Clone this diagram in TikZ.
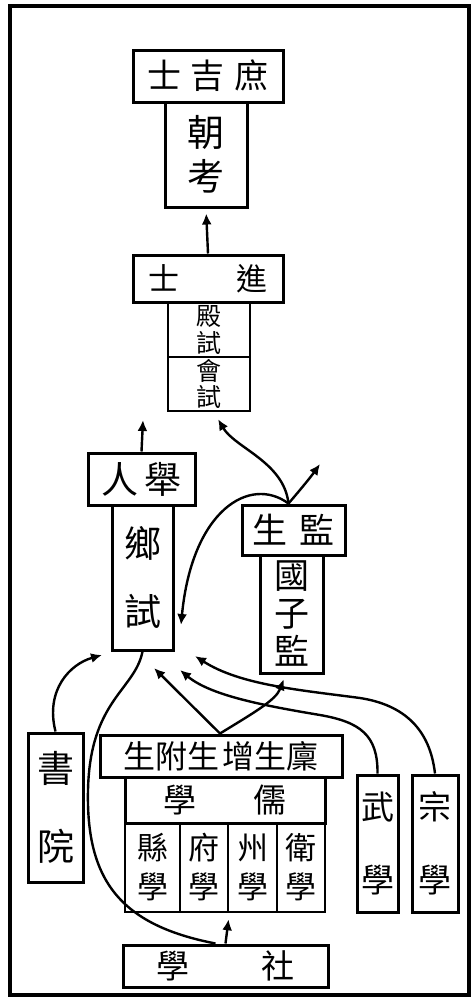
\documentclass[tikz,border=0pt]{standalone}
\usepackage{fontspec}
\newfontfamily\cjk{Noto Sans CJK TC}
\usetikzlibrary{arrows.meta}
\begin{document}
\begin{tikzpicture}[x=1pt,y=-1pt,
  box/.style={draw, line width=3pt, inner sep=0pt, align=center, font=\cjk},
  cell/.style={draw, line width=2.6pt, inner sep=0pt, align=center, font=\cjk},
  link/.style={line width=2.4pt},
  arr/.style={link, -{Latex[length=11pt,width=10pt]}}]
\useasboundingbox (0,0) rectangle (476,997);
\draw[line width=4pt] (10,6) rectangle (469,995);

% top column
\node[box, minimum width=82pt, minimum height=105pt, font=\cjk\fontsize{37}{44}\selectfont] (chao) at (206,154.5) {朝\\考};
\node[box, fill=white, minimum width=150pt, minimum height=52pt, font=\cjk\fontsize{34}{34}\selectfont] (shu) at (208,76) {士\hspace{10pt}吉\hspace{10pt}庶};
\node[cell, minimum width=82pt, minimum height=55pt, font=\cjk\fontsize{25}{27}\selectfont] (dian) at (209,329.5) {殿\\試};
\node[cell, minimum width=82pt, minimum height=54pt, font=\cjk\fontsize{25}{26}\selectfont] (hui) at (209,384) {會\\試};
\node[box, fill=white, minimum width=150pt, minimum height=47pt, font=\cjk\fontsize{31}{31}\selectfont] (jin) at (208,278.5) {士\hspace{58pt}進};

% juren
\node[box, minimum width=61pt, minimum height=145pt, font=\cjk\fontsize{37}{68}\selectfont] (xiang) at (142.5,577.5) {鄉\\試};
\node[box, fill=white, minimum width=107pt, minimum height=52pt, font=\cjk\fontsize{37}{37}\selectfont] (ju) at (141.5,479) {人\hspace{7pt}舉};

% jiansheng
\node[box, minimum width=63pt, minimum height=118pt, font=\cjk\fontsize{35}{38}\selectfont] (guo) at (291.5,614) {國\\子\\監};
\node[box, fill=white, minimum width=103pt, minimum height=50pt, font=\cjk\fontsize{35}{35}\selectfont] (jian) at (293.5,530) {生\hspace{13pt}監};

% shuyuan
\node[box, minimum width=55pt, minimum height=149pt, font=\cjk\fontsize{37}{78}\selectfont] (shuyuan) at (55.5,807.5) {書\\院};

% ruxue
\node[box, minimum width=200pt, minimum height=46pt, font=\cjk\fontsize{33}{33}\selectfont] (ru) at (225,800) {學\hspace{58pt}儒};
\node[cell, minimum width=55pt, minimum height=89pt, font=\cjk\fontsize{31}{39}\selectfont] (xian) at (152.5,867.5) {縣\\學};
\node[cell, minimum width=48pt, minimum height=89pt, font=\cjk\fontsize{31}{39}\selectfont] (fu) at (204,867.5) {府\\學};
\node[cell, minimum width=49pt, minimum height=89pt, font=\cjk\fontsize{31}{39}\selectfont] (zhou) at (252.5,867.5) {州\\學};
\node[cell, minimum width=48pt, minimum height=89pt, font=\cjk\fontsize{31}{39}\selectfont] (wei) at (301,867.5) {衛\\學};
\node[box, fill=white, minimum width=242pt, minimum height=42pt, font=\cjk\fontsize{32}{32}\selectfont] (lin) at (221,756) {生附生\hspace{3pt}增生廩};

% wuxue, zongxue
\node[box, minimum width=41pt, minimum height=137pt, font=\cjk\fontsize{33}{73}\selectfont] (wu) at (377.5,843.5) {武\\學};
\node[box, minimum width=46pt, minimum height=137pt, font=\cjk\fontsize{33}{73}\selectfont] (zong) at (435,843.5) {宗\\學};

% shexue
\node[box, minimum width=205pt, minimum height=42pt, font=\cjk\fontsize{33}{33}\selectfont] (she) at (225.5,966) {學\hspace{73pt}社};

% free ends
\coordinate (juTip) at (143,420);
\coordinate (jianTip) at (320,464);
\coordinate (linTip) at (154,668);
\coordinate (wuTip) at (180,670);
\coordinate (zongTip) at (195,656);
\coordinate (shuTip) at (102,655);
\coordinate (xiangTip) at (181,625);
\coordinate (jianTop) at ([xshift=-5pt]jian.north);
\coordinate (linTop) at ([xshift=-1pt]lin.north);

% connectors
\draw[arr, shorten >=5pt] (jin.north) -- (chao.south);
\draw[arr] (ju.north) -- (juTip);
\draw[arr, shorten >=8pt] (jianTop) .. controls (284,462) and (235,448) .. ([xshift=5pt]hui.south);
\draw[arr] (jianTop) .. controls (300,490) and (310,478) .. (jianTip);
\draw[arr] (jianTop) .. controls (250,475) and (192,510) .. (xiangTip);
\draw[arr, shorten >=6pt] (she.north) -- (fu.south east);
\draw[link] ([xshift=-10pt]she.north) .. controls (120,925) and (86,880) .. (88,790) .. controls (90,700) and (135,690) .. (xiang.south);
\draw[arr] (linTop) -- (linTip);
\draw[arr, shorten >=5pt] (linTop) .. controls (255,712) and (276,700) .. ([xshift=-6pt]guo.south);
\draw[arr] (wu.north) .. controls (378,735) and (360,722) .. (320,715) .. controls (260,705) and (210,695) .. (wuTip);
\draw[arr] (zong.north) .. controls (430,730) and (405,705) .. (360,698) .. controls (300,690) and (240,685) .. (zongTip);
\draw[arr] (shuyuan.north) .. controls (45,690) and (70,664) .. (shuTip);
\end{tikzpicture}
\end{document}
